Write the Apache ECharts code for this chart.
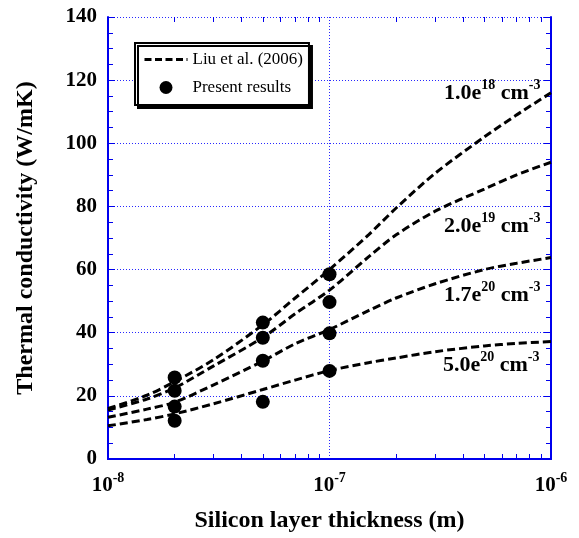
<!DOCTYPE html>
<html><head><meta charset="utf-8">
<script src="https://cdn.jsdelivr.net/npm/echarts@6/dist/echarts.min.js"></script>
<style>html,body{margin:0;padding:0;background:#fff}#c{width:579px;height:538px}</style>
</head><body><div id="c"></div><script>
// ---- data ----
const curveThickness = [1e-8, 1.5e-8, 2e-8, 3e-8, 5e-8, 7e-8, 1e-7, 1.5e-7, 2e-7, 3e-7, 5e-7, 7e-7, 1e-6];
const liu_1e18  = [16.0, 20.2, 24.5, 31.5, 42.5, 51.0, 60.0, 71.0, 79.5, 90.5, 102.0, 109.0, 116.0];
const liu_2e19  = [15.5, 19.0, 22.5, 29.5, 38.5, 46.0, 53.5, 64.0, 71.0, 78.5, 85.5, 90.0, 94.0];
const liu_17e20 = [13.2, 15.8, 18.0, 23.5, 31.0, 36.5, 41.0, 47.0, 51.0, 55.5, 60.0, 62.0, 63.8];
const liu_5e20  = [10.5, 12.5, 14.3, 17.5, 22.0, 25.0, 28.0, 30.5, 32.0, 34.0, 35.8, 36.6, 37.2];
const presentThickness = [2e-8, 2e-8, 2e-8, 2e-8, 5e-8, 5e-8, 5e-8, 5e-8, 1e-7, 1e-7, 1e-7, 1e-7];
const presentValues    = [25.8, 21.6, 16.6, 12.1, 43.2, 38.4, 31.1, 18.1, 58.5, 49.7, 39.8, 27.9];
const curveLabelBase = ['1.0e', '2.0e', '1.7e', '5.0e'];
const curveLabelExp  = ['18', '19', '20', '20'];
const yTicks = {min: 0, max: 140, interval: 20};
const xRange = {min: 1e-8, max: 1e-6};
const minorLogTicks = [2e-8,3e-8,4e-8,5e-8,6e-8,7e-8,8e-8,9e-8,2e-7,3e-7,4e-7,5e-7,6e-7,7e-7,8e-7,9e-7];
const legendNames = ['Liu et al. (2006)', 'Present results'];
const xTitle = 'Silicon layer thickness (m)';
const yTitle = 'Thermal conductivity (W/mK)';

// ---- styles ----
const FONT = '"Liberation Serif", "Times New Roman", serif';
const BLUE = '#0000ee';
const GRIDBLUE = '#2828ff';
const pair = (xs, ys) => xs.map((x, i) => [x, ys[i]]);
const curves = [liu_1e18, liu_2e19, liu_17e20, liu_5e20];
const labelPos = [[444, 78.5], [444, 211], [444, 280], [443, 350.5]];

const chart = echarts.init(document.getElementById('c'), null, {renderer: 'canvas'});

const lineSeries = curves.map(c => ({
  name: legendNames[0], type: 'line', xAxisIndex: 0, yAxisIndex: 0,
  data: pair(curveThickness, c), symbol: 'none', showSymbol: false, smooth: 0.3, z: 3,
  lineStyle: {color: '#000', width: 3, type: [8, 4]}, itemStyle: {color: '#000'}
}));

const richSup = {
  m: {fontFamily: FONT, fontWeight: 'bold', fontSize: 22, lineHeight: 30, color: '#000'},
  s: {fontFamily: FONT, fontWeight: 'bold', fontSize: 14, lineHeight: 14, verticalAlign: 'top', color: '#000'}
};

const option = {
  animation: false,
  backgroundColor: '#fff',
  grid: {left: 108, right: 28, top: 17, bottom: 78, containLabel: false},
  legend: {
    data: [
      {name: legendNames[0], itemStyle: {color: 'rgba(0,0,0,0)', opacity: 0, borderWidth: 0},
       lineStyle: {color: '#000', width: 3, type: [7, 3.5]}},
      {name: legendNames[1], icon: 'circle'}
    ],
    orient: 'vertical', left: 135, top: 43,
    padding: [8, 6, 9, 8], itemWidth: 43, itemHeight: 13, itemGap: 11,
    backgroundColor: '#fff', borderColor: '#000', borderWidth: 2,
    shadowColor: '#000', shadowBlur: 0, shadowOffsetX: 3, shadowOffsetY: 3,
    textStyle: {fontFamily: FONT, fontSize: 17, color: '#000', lineHeight: 17},
    selectedMode: false
  },
  xAxis: [
    {type: 'log', logBase: 10, min: xRange.min, max: xRange.max, position: 'bottom',
     name: xTitle, nameLocation: 'middle', nameGap: 50,
     nameTextStyle: {fontFamily: FONT, fontWeight: 'bold', fontSize: 24, color: '#000'},
     axisLine: {show: true, lineStyle: {color: BLUE, width: 2}},
     axisTick: {show: false},
     axisLabel: {margin: 12, formatter: v => '{m|10}{s|' + Math.round(Math.log10(v)) + '}', rich: {
        m: {fontFamily: FONT, fontWeight: 'bold', fontSize: 21, lineHeight: 30, color: '#000'},
        s: {fontFamily: FONT, fontWeight: 'bold', fontSize: 14, lineHeight: 12, verticalAlign: 'top', color: '#000'}}},
     splitLine: {show: true, lineStyle: {color: GRIDBLUE, width: 1, type: [1, 2]}}},
    {type: 'log', logBase: 10, min: xRange.min, max: xRange.max, position: 'top',
     axisLine: {show: true, lineStyle: {color: BLUE, width: 2}},
     axisTick: {show: false}, axisLabel: {show: false}, splitLine: {show: false}},
    {type: 'value', min: Math.log10(xRange.min), max: Math.log10(xRange.max), position: 'bottom',
     axisLine: {show: false}, axisLabel: {show: false}, splitLine: {show: false},
     axisTick: {show: true, inside: true, length: 5, customValues: minorLogTicks.map(Math.log10),
       lineStyle: {color: BLUE, width: 1}}},
    {type: 'value', min: Math.log10(xRange.min), max: Math.log10(xRange.max), position: 'top',
     axisLine: {show: false}, axisLabel: {show: false}, splitLine: {show: false},
     axisTick: {show: true, inside: true, length: 5, customValues: minorLogTicks.map(Math.log10),
       lineStyle: {color: BLUE, width: 1}}}
  ],
  yAxis: [
    {type: 'value', min: yTicks.min, max: yTicks.max, interval: yTicks.interval, position: 'left',
     name: yTitle, nameLocation: 'middle', nameGap: 70, nameRotate: 90,
     nameTextStyle: {fontFamily: FONT, fontWeight: 'bold', fontSize: 24, color: '#000'},
     axisLine: {show: true, lineStyle: {color: BLUE, width: 2}},
     axisTick: {show: true, inside: true, length: 7, lineStyle: {color: BLUE, width: 1}},
     minorTick: {show: true, splitNumber: 4, length: 5, lineStyle: {color: BLUE, width: 1}},
     axisLabel: {margin: 11, fontFamily: FONT, fontWeight: 'bold', fontSize: 21, color: '#000'},
     splitLine: {show: true, lineStyle: {color: GRIDBLUE, width: 1, type: [1, 2]}}},
    {type: 'value', min: yTicks.min, max: yTicks.max, interval: yTicks.interval, position: 'right',
     axisLine: {show: true, lineStyle: {color: BLUE, width: 2}},
     axisTick: {show: true, inside: true, length: 7, lineStyle: {color: BLUE, width: 1}},
     minorTick: {show: true, splitNumber: 4, length: 5, lineStyle: {color: BLUE, width: 1}},
     axisLabel: {show: false}, splitLine: {show: false}}
  ],
  series: lineSeries.concat([{
    name: legendNames[1], type: 'scatter', xAxisIndex: 0, yAxisIndex: 0,
    data: pair(presentThickness, presentValues), symbol: 'circle', symbolSize: 14, z: 5,
    itemStyle: {color: '#000', opacity: 1}
  }]),
  graphic: curveLabelBase.map((b, i) => ({
    type: 'text', x: labelPos[i][0], y: labelPos[i][1], z: 10,
    style: {text: '{m|' + b + '}{s|' + curveLabelExp[i] + '}{m| cm}{s|-3}', rich: richSup,
            align: 'left', verticalAlign: 'top'}
  }))
};
chart.setOption(option);
</script></body></html>
